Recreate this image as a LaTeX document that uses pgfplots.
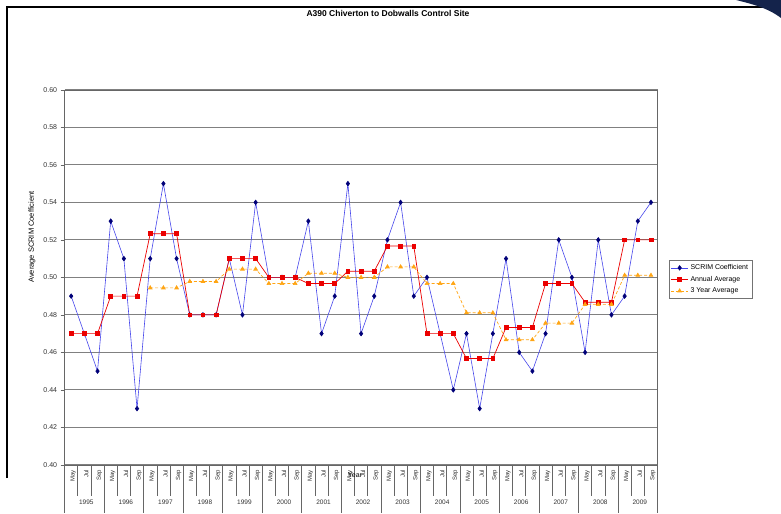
\documentclass[border=0pt]{standalone}
\usepackage{pgfplots}
\pgfplotsset{compat=1.18}
\usepackage{fontspec}
\setmainfont{Liberation Sans}

\definecolor{scrimline}{RGB}{70,70,235}
\definecolor{scrimmark}{RGB}{0,0,120}
\definecolor{annual}{RGB}{235,0,0}
\definecolor{threeyr}{RGB}{255,165,20}
\definecolor{gridgray}{RGB}{128,128,128}
\definecolor{framenavy}{RGB}{20,35,75}

\begin{document}
\begin{tikzpicture}[x=1pt,y=1pt]
% the axis anchor is the outer corner, labels and separators included
\begin{axis}[
  at={(49,7)}, anchor=south west,
  scale only axis, width=593pt, height=375pt,
  clip=false,
  xmin=-0.5, xmax=44.5,
  ymin=0.40, ymax=0.60,
  ytick={0.40,0.42,...,0.60},
  /pgf/number format/fixed,
  /pgf/number format/fixed zerofill,
  /pgf/number format/precision=2,
  /pgf/number format/assume math mode=true,
  yticklabel style={font=\fontsize{7}{8}\selectfont, text=black!80},
  ymajorgrids,
  grid style={gridgray, line width=1.1pt},
  axis line style={black!60},
  tick align=outside,
  xtick pos=bottom, ytick pos=left,
  major tick length=4pt,
  minor tick length=31pt,
  ytick style={black!60},
  major x tick style={draw=none},
  xtick={0,...,44},
  xticklabels={May,Jul,Sep,May,Jul,Sep,May,Jul,Sep,May,Jul,Sep,May,Jul,Sep,
               May,Jul,Sep,May,Jul,Sep,May,Jul,Sep,May,Jul,Sep,May,Jul,Sep,
               May,Jul,Sep,May,Jul,Sep,May,Jul,Sep,May,Jul,Sep,May,Jul,Sep},
  xticklabel style={rotate=90, anchor=east, font=\fontsize{6}{6.5}\selectfont, text=black!80, inner sep=1pt, yshift=-2pt},
  minor xtick={-0.5,0.5,...,44.5},
  minor x tick style={black!60, line width=0.6pt},
  extra x ticks={1,4,7,10,13,16,19,22,25,28,31,34,37,40,43},
  extra x tick labels={1995,1996,1997,1998,1999,2000,2001,2002,2003,2004,2005,2006,2007,2008,2009},
  extra x tick style={grid=none, major tick length=0pt,
    xticklabel style={rotate=-90, anchor=north, font=\fontsize{6.5}{7}\selectfont, yshift=-34pt}},
  legend style={at={(1,0.5)}, anchor=west, xshift=11pt, yshift=-2pt,
    draw=black!55, fill=white, font=\fontsize{7}{8}\selectfont,
    inner sep=2pt, row sep=1pt, cells={anchor=west}},
  legend cell align=left,
]
% year separators below the axis
\pgfplotsinvokeforeach{-0.5,2.5,5.5,8.5,11.5,14.5,17.5,20.5,23.5,26.5,29.5,32.5,35.5,38.5,41.5,44.5}{
  \draw[black!60, line width=0.6pt] (axis cs:#1,0.40) -- ++(0pt,-48pt);
}

\addplot[color=scrimline, line width=0.6pt, mark=diamond*, mark size=2.3pt,
  mark options={draw=scrimmark, fill=scrimmark}] coordinates {
  (0,0.49) (1,0.47) (2,0.45)
  (3,0.53) (4,0.51) (5,0.43)
  (6,0.51) (7,0.55) (8,0.51)
  (9,0.48) (10,0.48) (11,0.48)
  (12,0.51) (13,0.48) (14,0.54)
  (15,0.50) (16,0.50) (17,0.50)
  (18,0.53) (19,0.47) (20,0.49)
  (21,0.55) (22,0.47) (23,0.49)
  (24,0.52) (25,0.54) (26,0.49)
  (27,0.50) (28,0.47) (29,0.44)
  (30,0.47) (31,0.43) (32,0.47)
  (33,0.51) (34,0.46) (35,0.45)
  (36,0.47) (37,0.52) (38,0.50)
  (39,0.46) (40,0.52) (41,0.48)
  (42,0.49) (43,0.53) (44,0.54)
};
\addlegendentry{SCRIM Coefficient}

\addplot[color=annual, line width=0.7pt, mark=square*, mark size=1.9pt,
  mark options={draw=annual, fill=annual}] coordinates {
  (0,0.4700) (1,0.4700) (2,0.4700)
  (3,0.4900) (4,0.4900) (5,0.4900)
  (6,0.5233) (7,0.5233) (8,0.5233)
  (9,0.4800) (10,0.4800) (11,0.4800)
  (12,0.5100) (13,0.5100) (14,0.5100)
  (15,0.5000) (16,0.5000) (17,0.5000)
  (18,0.4967) (19,0.4967) (20,0.4967)
  (21,0.5033) (22,0.5033) (23,0.5033)
  (24,0.5167) (25,0.5167) (26,0.5167)
  (27,0.4700) (28,0.4700) (29,0.4700)
  (30,0.4567) (31,0.4567) (32,0.4567)
  (33,0.4733) (34,0.4733) (35,0.4733)
  (36,0.4967) (37,0.4967) (38,0.4967)
  (39,0.4867) (40,0.4867) (41,0.4867)
  (42,0.5200) (43,0.5200) (44,0.5200)
};
\addlegendentry{Annual Average}

\addplot[color=threeyr, line width=0.7pt, dash pattern=on 3pt off 2pt,
  mark=triangle*, mark size=2.1pt, mark options={solid, draw=threeyr, fill=threeyr}] coordinates {
  (6,0.4944) (7,0.4944) (8,0.4944)
  (9,0.4978) (10,0.4978) (11,0.4978)
  (12,0.5044) (13,0.5044) (14,0.5044)
  (15,0.4967) (16,0.4967) (17,0.4967)
  (18,0.5022) (19,0.5022) (20,0.5022)
  (21,0.5000) (22,0.5000) (23,0.5000)
  (24,0.5056) (25,0.5056) (26,0.5056)
  (27,0.4967) (28,0.4967) (29,0.4967)
  (30,0.4811) (31,0.4811) (32,0.4811)
  (33,0.4667) (34,0.4667) (35,0.4667)
  (36,0.4756) (37,0.4756) (38,0.4756)
  (39,0.4856) (40,0.4856) (41,0.4856)
  (42,0.5011) (43,0.5011) (44,0.5011)
};
\addlegendentry{3 Year Average}
\end{axis}
% sheet frame, corner decoration, titles
\path (0,0) rectangle (781,478);
\draw[black, line width=1.6pt] (7,0) -- (7,471) -- (772,471);
\fill[framenavy] (736,478) .. controls (752,474) and (768,470) .. (781,460) -- (781,478) -- cycle;
\node[font=\bfseries\fontsize{8.5}{10}\selectfont] at (388,465) {A390 Chiverton to Dobwalls Control Site};
\node[rotate=90, font=\fontsize{7.5}{9}\selectfont] at (32,241) {Average SCRIM Coefficient};
\node[font=\fontsize{7}{8}\selectfont, inner sep=0pt, anchor=south] at (355,0.5) {Year};
\end{tikzpicture}
\end{document}
